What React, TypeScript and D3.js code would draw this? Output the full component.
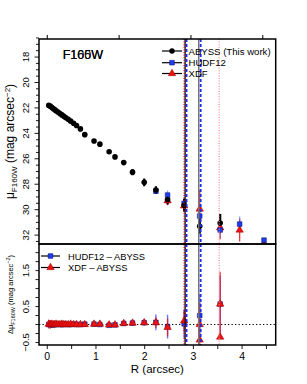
import React from "react";
import * as d3 from "d3";

// radial profile, F160W
const radius = [0.03, 0.06, 0.09, 0.12, 0.15, 0.18, 0.22, 0.26, 0.3, 0.34, 0.38, 0.43, 0.48, 0.54, 0.6, 0.68, 0.77, 0.96, 1.08, 1.27, 1.39, 1.57, 1.75, 1.99, 2.23, 2.47, 2.81, 3.13, 3.55, 3.95, 4.45];

const muAbyss = [21.8, 21.86, 21.95, 22.04, 22.13, 22.22, 22.33, 22.44, 22.55, 22.66, 22.77, 22.9, 23.04, 23.2, 23.38, 23.65, 24.1, 24.6, 24.85, 25.45, 25.85, 26.3, 27.05, 27.85, 28.45, 29.2, 29.65, 31.3, 31.05, null, null];
const errAbyss = [0.02, 0.02, 0.02, 0.02, 0.02, 0.02, 0.02, 0.02, 0.02, 0.02, 0.02, 0.02, 0.02, 0.02, 0.02, 0.03, 0.03, 0.04, 0.05, 0.08, 0.08, 0.15, 0.25, 0.3, 0.3, 0.4, 0.5, 0.6, 0.7, null, null];

// HUDF12 / XDF profiles (inner points hidden under ABYSS in the figure)
const muHudf = [null, null, null, null, null, null, null, null, null, null, null, null, null, null, null, null, null, null, null, null, null, null, null, null, 28.55, 28.85, 29.5, 30.5, 31.6, 31.13, 32.4];
const errHudf = [null, null, null, null, null, null, null, null, null, null, null, null, null, null, null, null, null, null, null, null, null, null, null, null, 0.2, 0.35, 0.5, 0.6, 0.6, 0.6, 0.15];

const muXdf = [null, null, null, null, null, null, null, null, null, null, null, null, null, null, null, null, null, null, null, null, null, null, null, null, null, 29.3, 29.7, 29.95, 31.43, 31.6, 32.65];
const errXdf = [null, null, null, null, null, null, null, null, null, null, null, null, null, null, null, null, null, null, null, null, null, null, null, null, null, 0.35, 0.5, 1.5, 0.9, 0.9, 0.3];

// residuals
const dHudf = [0.0, 0.0, 0.0, -0.01, 0.0, 0.0, 0.01, 0.0, 0.0, 0.0, 0.01, 0.0, 0.0, 0.01, 0.0, 0.0, 0.01, 0.01, 0.0, -0.02, -0.01, 0.03, 0.04, 0.05, 0.06, -0.06, 0.02, 0.25, 0.57, null, null];
const dHudfErr = [0.03, 0.03, 0.03, 0.03, 0.03, 0.03, 0.03, 0.03, 0.03, 0.03, 0.03, 0.03, 0.03, 0.03, 0.03, 0.03, 0.03, 0.04, 0.04, 0.05, 0.05, 0.06, 0.07, 0.08, 0.22, 0.33, 0.4, 0.6, 0.8, null, null];
const dXdf = [0.01, 0.0, 0.01, 0.0, 0.0, 0.01, 0.0, 0.0, 0.01, 0.0, 0.0, 0.0, 0.01, 0.0, 0.0, 0.0, 0.0, 0.01, 0.01, -0.01, -0.01, 0.03, 0.04, 0.05, 0.05, -0.08, 0.1, 0.0, 0.57, null, null];
const dXdfErr = [0.12, 0.12, 0.1, 0.08, 0.06, 0.05, 0.04, 0.04, 0.04, 0.03, 0.03, 0.03, 0.03, 0.03, 0.03, 0.03, 0.04, 0.04, 0.04, 0.05, 0.05, 0.06, 0.07, 0.08, 0.15, 0.25, 0.3, 0.6, 0.9, null, null];
const xdfLowRadius = [3.13, 3.55];
const xdfLowValue = [-0.43, -0.35];

// limiting radii
const limitRadius = [2.83, 2.81, 2.86, 3.11, 3.15, 3.53];
const limitKind = ["abyss", "xdf", "hudf", "abyss2", "hudf2", "xdf2"];

const xTicks = [0, 1, 2, 3, 4];
const yTopLabels = [18, 20, 22, 24, 26, 28, 30, 32];
const yBotLabels = [-0.5, 0.5, 1.5];
const kpcTicks = [0, 1, 2, 3];
const arcsecPerKpc = 1.475;

const font = "Liberation Sans, Arial, Helvetica, sans-serif";

const L = 39, R = 275.7, T = 39, M = 244, B = 345;

const lineStyle: Record<string, any> = {
  abyss: { stroke: "#000", width: 1.3, dash: null },
  xdf: { stroke: "#e00", width: 1.3, dash: "1,1.6" },
  hudf: { stroke: "#1a2ef0", width: 1.8, dash: "3,2" },
  abyss2: { stroke: "#777", width: 1.5, dash: null },
  hudf2: { stroke: "#1a2ef0", width: 1.8, dash: "3,2" },
  xdf2: { stroke: "#f88", width: 1.2, dash: "1,1.6" },
};

const BLUE = "#1f3cf0";
const RED = "#ee1111";
const sq = d3.symbol(d3.symbolSquare, 22)()!;
const tri = d3.symbol(d3.symbolTriangle, 24)()!;

export default function App() {
  const x = d3.scaleLinear().domain([-0.17, 4.69]).range([L, R]);
  const yTop = d3.scaleLinear().domain([16.58, 32.7]).range([T, M]);
  const yBot = d3.scaleLinear().domain([2.24, -0.57]).range([M, B]);

  const series = (mu: (number | null)[], err: (number | null)[]) =>
    radius.map((r, i) => ({ r, v: mu[i], e: err[i] })).filter((d) => d.v != null) as { r: number; v: number; e: number }[];

  const abyss = series(muAbyss, errAbyss);
  const hudf = series(muHudf, errHudf);
  const xdf = series(muXdf, errXdf);
  const dh = series(dHudf, dHudfErr);
  const dx = series(dXdf, dXdfErr);

  const minorTop = d3.range(16.5, 32.75, 0.5);
  const minorBot = d3.range(-0.5, 2.25, 0.25);
  const minorX = d3.range(0, 4.75, 0.5);

  const bars = (data: any[], y: any, color: string, w: number, op = 1) =>
    data.map((d, i) => (
      <line key={i} x1={x(d.r)} x2={x(d.r)} y1={y(d.v - d.e)} y2={y(d.v + d.e)} stroke={color} strokeWidth={w} strokeOpacity={op} />
    ));

  const limits = (
    <g>
      {limitRadius.map((r, i) => {
        const s = lineStyle[limitKind[i]];
        return (
          <line key={i} x1={x(r)} x2={x(r)} y1={T} y2={B} stroke={s.stroke} strokeWidth={s.width} strokeDasharray={s.dash ?? undefined} />
        );
      })}
    </g>
  );

  return (
    <div style={{ position: "absolute", left: 0, top: 0 }}>
      <svg width={307} height={384} style={{ display: "block", background: "#fff" }} fontFamily={font}>
        <defs>
          <clipPath id="cTop"><rect x={L} y={T} width={R - L} height={M - T} /></clipPath>
          <clipPath id="cBot"><rect x={L} y={M} width={R - L} height={B - M} /></clipPath>
        </defs>

        {/* top panel points */}
        <g clipPath="url(#cTop)">
          {bars(xdf, yTop, RED, 1.3, 0.85)}
          {bars(hudf, yTop, "#4a6bff", 1.3, 0.6)}
          {bars(abyss, yTop, "#000", 2.2)}
          {xdf.map((d, i) => (
            <path key={i} d={tri} transform={`translate(${x(d.r)},${yTop(d.v)})`} fill={RED} stroke="#900" strokeWidth={0.5} />
          ))}
          {hudf.map((d, i) => (
            <path key={i} d={sq} transform={`translate(${x(d.r)},${yTop(d.v)})`} fill={BLUE} stroke="#001070" strokeWidth={0.5} />
          ))}
          {abyss.map((d, i) => (
            <circle key={i} cx={x(d.r)} cy={yTop(d.v)} r={2.8} fill="#000" />
          ))}
        </g>

        {/* bottom panel */}
        <line x1={L} x2={R} y1={yBot(0)} y2={yBot(0)} stroke="#000" strokeWidth={1.2} strokeDasharray="1.3,2.2" />
        <g clipPath="url(#cBot)">
          {bars(dh, yBot, "#2a3cff", 1.4, 0.7)}
          {bars(dx, yBot, RED, 1.3, 0.8)}
          {dh.map((d, i) => (
            <path key={i} d={sq} transform={`translate(${x(d.r)},${yBot(d.v)})`} fill={BLUE} stroke="#001070" strokeWidth={0.5} />
          ))}
          {dx.map((d, i) => (
            <path key={i} d={tri} transform={`translate(${x(d.r)},${yBot(d.v)})`} fill={RED} stroke="#900" strokeWidth={0.5} />
          ))}
          {xdfLowRadius.map((r, i) => (
            <path key={i} d={tri} transform={`translate(${x(r)},${yBot(xdfLowValue[i])})`} fill={RED} stroke="#900" strokeWidth={0.5} />
          ))}
        </g>

        {limits}

        {/* frames */}
        <rect x={L} y={T} width={R - L} height={M - T} fill="none" stroke="#000" strokeWidth={1.5} />
        <rect x={L} y={M} width={R - L} height={B - M} fill="none" stroke="#000" strokeWidth={1.5} />

        {/* top axis (kpc ticks, unlabelled) */}
        {kpcTicks.map((k) => (
          <line key={k} x1={x(k * arcsecPerKpc)} x2={x(k * arcsecPerKpc)} y1={T} y2={T - 4} stroke="#000" strokeWidth={1} />
        ))}

        {/* left axis top */}
        {minorTop.map((v) => (
          <line key={v} x1={L} x2={L - (v % 2 === 0 ? 4.5 : 3)} y1={yTop(v)} y2={yTop(v)} stroke="#000" strokeWidth={0.9} />
        ))}
        {yTopLabels.map((v) => (
          <text key={v} transform={`translate(25,${yTop(v)}) rotate(-90)`} textAnchor="middle" dominantBaseline="central" fontSize={9.5}>
            {v}
          </text>
        ))}

        {/* left axis bottom */}
        {minorBot.map((v) => (
          <line key={v} x1={L} x2={L - 3.5} y1={yBot(v)} y2={yBot(v)} stroke="#000" strokeWidth={0.9} />
        ))}
        {yBotLabels.map((v) => (
          <text key={v} transform={`translate(25,${yBot(v)}) rotate(-90)`} textAnchor="middle" dominantBaseline="central" fontSize={9.5}>
            {v < 0 ? `\u2212${Math.abs(v)}` : v}
          </text>
        ))}

        {/* bottom x axis */}
        {minorX.map((v) => (
          <line key={v} x1={x(v)} x2={x(v)} y1={B} y2={B + 4} stroke="#000" strokeWidth={0.9} />
        ))}
        {xTicks.map((v) => (
          <text key={v} x={x(v)} y={359.5} textAnchor="middle" fontSize={10.5}>
            {v}
          </text>
        ))}
        <text x={(L + R) / 2} y={373} textAnchor="middle" fontSize={11.5}>R (arcsec)</text>

        {/* y titles */}
        <text transform={`translate(14,${(T + M) / 2}) rotate(-90)`} textAnchor="middle" fontSize={12}>
          μ<tspan fontSize={8} dy={2.5}>F160W</tspan>
          <tspan dy={-2.5}> (mag arcsec</tspan>
          <tspan fontSize={8} dy={-4.5}>−2</tspan>
          <tspan dy={4.5}>)</tspan>
        </text>
        <text transform={`translate(13,${(M + B) / 2}) rotate(-90)`} textAnchor="middle" fontSize={7.5}>
          Δμ<tspan fontSize={5.5} dy={1.5}>F160W</tspan>
          <tspan dy={-1.5}> (mag arcsec</tspan>
          <tspan fontSize={5.5} dy={-3}>−2</tspan>
          <tspan dy={3}>)</tspan>
        </text>

        {/* filter label */}
        <text x={62.7} y={59} fontSize={12.5}>F160W</text>
        <text x={62.7} y={59} fontSize={12.5}>F105W</text>

        {/* top legend */}
        {[
          { y: 51, label: "ABYSS (This work)", m: "c" },
          { y: 62.7, label: "HUDF12", m: "s" },
          { y: 73.5, label: "XDF", m: "t" },
        ].map((d) => (
          <g key={d.label}>
            <line x1={162} x2={182} y1={d.y} y2={d.y} stroke="#000" strokeWidth={1.2} />
            {d.m === "c" && <circle cx={172} cy={d.y} r={2.7} fill="#000" />}
            {d.m === "s" && <path d={sq} transform={`translate(172,${d.y})`} fill={BLUE} stroke="#001070" strokeWidth={0.5} />}
            {d.m === "t" && <path d={tri} transform={`translate(172,${d.y})`} fill={RED} stroke="#900" strokeWidth={0.5} />}
            <text x={188.5} y={d.y + 3.5} fontSize={9.6}>{d.label}</text>
          </g>
        ))}

        {/* bottom legend */}
        {[
          { y: 256, label: "HUDF12 – ABYSS", m: "s" },
          { y: 267.5, label: "XDF – ABYSS", m: "t" },
        ].map((d) => (
          <g key={d.label}>
            <line x1={41} x2={60} y1={d.y} y2={d.y} stroke="#000" strokeWidth={1.2} />
            {d.m === "s" && <path d={sq} transform={`translate(50.5,${d.y})`} fill={BLUE} stroke="#001070" strokeWidth={0.5} />}
            {d.m === "t" && <path d={tri} transform={`translate(50.5,${d.y})`} fill={RED} stroke="#900" strokeWidth={0.5} />}
            <text x={68} y={d.y + 3.5} fontSize={9.3}>{d.label}</text>
          </g>
        ))}
      </svg>
    </div>
  );
}
